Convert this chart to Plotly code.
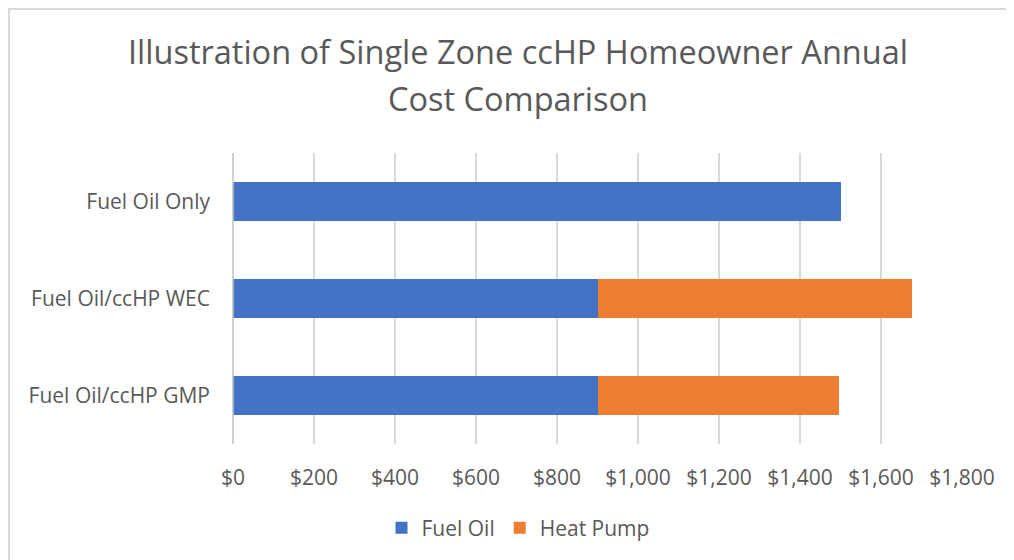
import plotly.graph_objects as go

categories = ["Fuel Oil Only", "Fuel Oil/ccHP WEC", "Fuel Oil/ccHP GMP"]
fuel_oil = [1500, 900, 900]
heat_pump = [0, 777, 597]
tick_vals = [0, 200, 400, 600, 800, 1000, 1200, 1400, 1600, 1800]
tick_text = ["$0", "$200", "$400", "$600", "$800", "$1,000", "$1,200", "$1,400", "$1,600", "$1,800"]

FONT = "Open Sans"
TXT = "#595959"

# page body has an 8px margin; figure coordinates = screen - 8
OFF = 8
W, H = 1006, 552
L, R, T, B = 233 - OFF, 52, 153 - OFF, 116
pw, ph = W - L - R, H - T - B

def px_x(p):
    return (p - OFF - L) / pw

def px_y(p):
    return (H - B - (p - OFF)) / ph

fig = go.Figure()
fig.add_trace(go.Bar(y=categories, x=fuel_oil, orientation="h", name="Fuel Oil",
                     marker=dict(color="#4472C4", line=dict(width=0))))
fig.add_trace(go.Bar(y=categories, x=heat_pump, orientation="h", name="Heat Pump",
                     marker=dict(color="#ED7D31", line=dict(width=0))))

fig.update_layout(
    width=W, height=H,
    barmode="stack", bargap=0.6,
    margin=dict(l=L, r=R, t=T, b=B),
    paper_bgcolor="white", plot_bgcolor="white",
    font=dict(family=FONT, color=TXT, size=21),
    showlegend=True,
    legend=dict(orientation="h", x=px_x(518), xanchor="center", y=px_y(528), yanchor="middle",
                font=dict(size=21, color=TXT), itemwidth=30, traceorder="normal"),
    xaxis=dict(range=[0, 1800], tickvals=tick_vals, ticktext=tick_text,
               showgrid=True, gridcolor="#D9D9D9", gridwidth=1.5, zeroline=False,
               showline=False, ticks="", ticklabelstandoff=19,
               tickfont=dict(size=21, color=TXT), fixedrange=True),
    yaxis=dict(categoryorder="array", categoryarray=categories, autorange="reversed",
               showgrid=False, zeroline=False, showline=False, ticks="",
               ticklabelstandoff=22, tickfont=dict(size=21, color=TXT)),
    shapes=[
        dict(type="line", xref="paper", yref="paper", x0=0, x1=0, y0=0, y1=1,
             line=dict(color="#BFBFBF", width=1.5)),
        dict(type="line", xref="paper", yref="paper", x0=px_x(8), x1=px_x(1014), y0=px_y(9), y1=px_y(9),
             line=dict(color="#D9D9D9", width=2)),
        dict(type="line", xref="paper", yref="paper", x0=px_x(9), x1=px_x(9), y0=px_y(8), y1=px_y(560),
             line=dict(color="#D9D9D9", width=2)),
    ],
    annotations=[
        dict(text="Illustration of Single Zone ccHP Homeowner Annual", xref="paper", yref="paper",
             x=px_x(518), y=px_y(52), xanchor="center", yanchor="middle", showarrow=False,
             font=dict(size=32.5, color=TXT, family=FONT)),
        dict(text="Cost Comparison", xref="paper", yref="paper",
             x=px_x(518), y=px_y(98), xanchor="center", yanchor="middle", showarrow=False,
             font=dict(size=32.5, color=TXT, family=FONT)),
    ],
)

fig.write_html("out.html")
